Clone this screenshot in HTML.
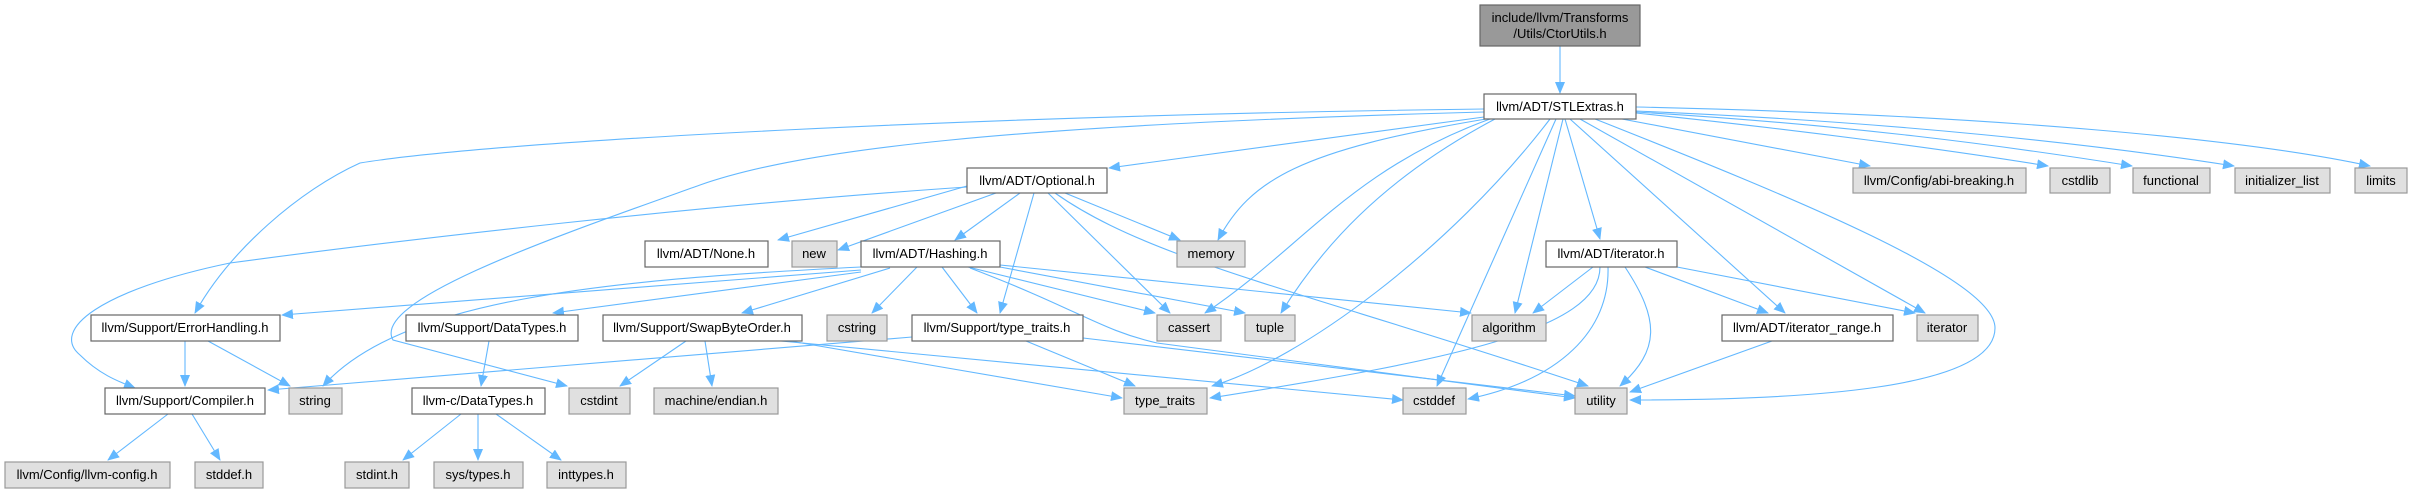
<!DOCTYPE html>
<html><head><meta charset="utf-8"><style>
html,body{margin:0;padding:0;background:#fff;}
svg{display:block;}
text{font-family:"Liberation Sans",Helvetica,sans-serif;font-size:13px;fill:#000;text-anchor:middle;}
.w{fill:#fff;stroke:#666;stroke-width:1.2;}
.g{fill:#e0e0e0;stroke:#999;stroke-width:1.2;}
.t{fill:#999;stroke:#666;stroke-width:1.2;}
path.e{fill:none;stroke:#63b8ff;stroke-width:1.1;marker-end:url(#a);}
</style></head><body>
<svg width="2413" height="493" viewBox="0 0 2413 493" xmlns="http://www.w3.org/2000/svg">
<defs><marker id="a" markerWidth="12" markerHeight="10" refX="11" refY="5" orient="auto" markerUnits="userSpaceOnUse"><path d="M0,0 L12,5 L0,10 z" fill="#63b8ff"/></marker></defs>
<g>
<path class="e" d="M1560,46 L1560,93"/>
<path class="e" d="M1484,109 C1000,115 500,140 360,163 C300,190 230,250 195,313"/>
<path class="e" d="M1484,112 C1000,125 800,150 700,185 C560,235 370,300 393,340 L567,386"/>
<path class="e" d="M967,187 C700,205 400,240 230,263 C100,290 50,330 80,355 C100,375 120,382 135,388"/>
<path class="e" d="M1484,117 L1109,168"/>
<path class="e" d="M1486,119 C1300,150 1250,180 1218,240"/>
<path class="e" d="M1490,119 C1350,170 1300,250 1205,313"/>
<path class="e" d="M1495,119 C1380,180 1320,250 1281,313"/>
<path class="e" d="M1550,119 C1450,250 1300,360 1212,386"/>
<path class="e" d="M1556,119 L1437,386"/>
<path class="e" d="M1563,119 L1515,313"/>
<path class="e" d="M1565,119 L1600,239"/>
<path class="e" d="M1570,119 L1785,313"/>
<path class="e" d="M1580,119 L1925,313"/>
<path class="e" d="M1590,117 C1800,200 1995,280 1995,328 C1995,390 1800,400 1630,400"/>
<path class="e" d="M1622,119 L1870,166"/>
<path class="e" d="M1636,113 C1800,130 1950,150 2048,166"/>
<path class="e" d="M1636,112 C1850,125 2000,145 2132,166"/>
<path class="e" d="M1636,111 C1900,122 2100,145 2234,166"/>
<path class="e" d="M1636,107 C2000,115 2250,140 2370,166"/>
<path class="e" d="M967,186 L778,240"/>
<path class="e" d="M996,193 L838,250"/>
<path class="e" d="M1020,193 L955,240"/>
<path class="e" d="M1034,193 L1000,313"/>
<path class="e" d="M1048,193 L1170,313"/>
<path class="e" d="M1065,193 L1180,240"/>
<path class="e" d="M1055,193 C1150,260 1300,290 1588,386"/>
<path class="e" d="M861,270 L282,315"/>
<path class="e" d="M861,272 L553,313"/>
<path class="e" d="M890,268 L742,313"/>
<path class="e" d="M861,267 C600,280 400,300 323,386"/>
<path class="e" d="M917,267 L872,313"/>
<path class="e" d="M942,267 L977,313"/>
<path class="e" d="M968,267 L1155,313"/>
<path class="e" d="M1000,267 L1245,313"/>
<path class="e" d="M1000,265 L1471,313"/>
<path class="e" d="M970,268 C1080,310 1100,330 1157,343 L1575,398"/>
<path class="e" d="M912,337 L268,390"/>
<path class="e" d="M781,341 L1403,400"/>
<path class="e" d="M790,341 L1122,398"/>
<path class="e" d="M686,341 L620,386"/>
<path class="e" d="M705,341 L712,386"/>
<path class="e" d="M489,341 L481,386"/>
<path class="e" d="M185,341 L185,386"/>
<path class="e" d="M208,341 L290,386"/>
<path class="e" d="M1026,341 L1135,386"/>
<path class="e" d="M1083,338 L1575,396"/>
<path class="e" d="M1593,267 L1533,313"/>
<path class="e" d="M1600,267 C1600,330 1450,360 1210,398"/>
<path class="e" d="M1608,267 C1610,330 1560,380 1468,399"/>
<path class="e" d="M1625,267 C1660,320 1660,350 1620,386"/>
<path class="e" d="M1645,267 L1768,313"/>
<path class="e" d="M1677,267 L1915,313"/>
<path class="e" d="M1772,341 L1630,392"/>
<path class="e" d="M168,414 L108,460"/>
<path class="e" d="M192,414 L220,460"/>
<path class="e" d="M461,414 L403,460"/>
<path class="e" d="M478,414 L478,460"/>
<path class="e" d="M496,414 L561,460"/>
</g>
<g>
<rect class="t" x="1480" y="5" width="160" height="41"/><text x="1560" y="22">include/llvm/Transforms</text><text x="1560" y="38">/Utils/CtorUtils.h</text>
<rect class="w" x="1484" y="94" width="152" height="25"/><text x="1560" y="111">llvm/ADT/STLExtras.h</text>
<rect class="w" x="967" y="168" width="140" height="25"/><text x="1037" y="185">llvm/ADT/Optional.h</text>
<rect class="g" x="1853" y="168" width="173" height="25"/><text x="1939" y="185">llvm/Config/abi-breaking.h</text>
<rect class="g" x="2050" y="168" width="60" height="25"/><text x="2080" y="185">cstdlib</text>
<rect class="g" x="2133" y="168" width="77" height="25"/><text x="2171" y="185">functional</text>
<rect class="g" x="2235" y="168" width="95" height="25"/><text x="2282" y="185">initializer_list</text>
<rect class="g" x="2355" y="168" width="52" height="25"/><text x="2381" y="185">limits</text>
<rect class="w" x="645" y="241" width="123" height="26"/><text x="706" y="258">llvm/ADT/None.h</text>
<rect class="g" x="792" y="241" width="45" height="26"/><text x="814" y="258">new</text>
<rect class="w" x="861" y="241" width="139" height="26"/><text x="930" y="258">llvm/ADT/Hashing.h</text>
<rect class="g" x="1177" y="241" width="68" height="26"/><text x="1211" y="258">memory</text>
<rect class="w" x="1546" y="241" width="131" height="26"/><text x="1611" y="258">llvm/ADT/iterator.h</text>
<rect class="w" x="91" y="315" width="189" height="26"/><text x="185" y="332">llvm/Support/ErrorHandling.h</text>
<rect class="w" x="406" y="315" width="172" height="26"/><text x="492" y="332">llvm/Support/DataTypes.h</text>
<rect class="w" x="603" y="315" width="199" height="26"/><text x="702" y="332">llvm/Support/SwapByteOrder.h</text>
<rect class="g" x="827" y="315" width="60" height="26"/><text x="857" y="332">cstring</text>
<rect class="w" x="912" y="315" width="171" height="26"/><text x="997" y="332">llvm/Support/type_traits.h</text>
<rect class="g" x="1157" y="315" width="64" height="26"/><text x="1189" y="332">cassert</text>
<rect class="g" x="1245" y="315" width="50" height="26"/><text x="1270" y="332">tuple</text>
<rect class="g" x="1472" y="315" width="74" height="26"/><text x="1509" y="332">algorithm</text>
<rect class="w" x="1722" y="315" width="171" height="26"/><text x="1807" y="332">llvm/ADT/iterator_range.h</text>
<rect class="g" x="1917" y="315" width="61" height="26"/><text x="1947" y="332">iterator</text>
<rect class="w" x="105" y="388" width="160" height="26"/><text x="185" y="405">llvm/Support/Compiler.h</text>
<rect class="g" x="289" y="388" width="53" height="26"/><text x="315" y="405">string</text>
<rect class="w" x="412" y="388" width="133" height="26"/><text x="478" y="405">llvm-c/DataTypes.h</text>
<rect class="g" x="569" y="388" width="61" height="26"/><text x="599" y="405">cstdint</text>
<rect class="g" x="654" y="388" width="124" height="26"/><text x="716" y="405">machine/endian.h</text>
<rect class="g" x="1124" y="388" width="83" height="26"/><text x="1165" y="405">type_traits</text>
<rect class="g" x="1403" y="388" width="63" height="26"/><text x="1434" y="405">cstddef</text>
<rect class="g" x="1575" y="388" width="52" height="26"/><text x="1601" y="405">utility</text>
<rect class="g" x="5" y="462" width="165" height="26"/><text x="87" y="479">llvm/Config/llvm-config.h</text>
<rect class="g" x="195" y="462" width="68" height="26"/><text x="229" y="479">stddef.h</text>
<rect class="g" x="345" y="462" width="64" height="26"/><text x="377" y="479">stdint.h</text>
<rect class="g" x="434" y="462" width="89" height="26"/><text x="478" y="479">sys/types.h</text>
<rect class="g" x="547" y="462" width="79" height="26"/><text x="586" y="479">inttypes.h</text>
</g>
</svg>
</body></html>
